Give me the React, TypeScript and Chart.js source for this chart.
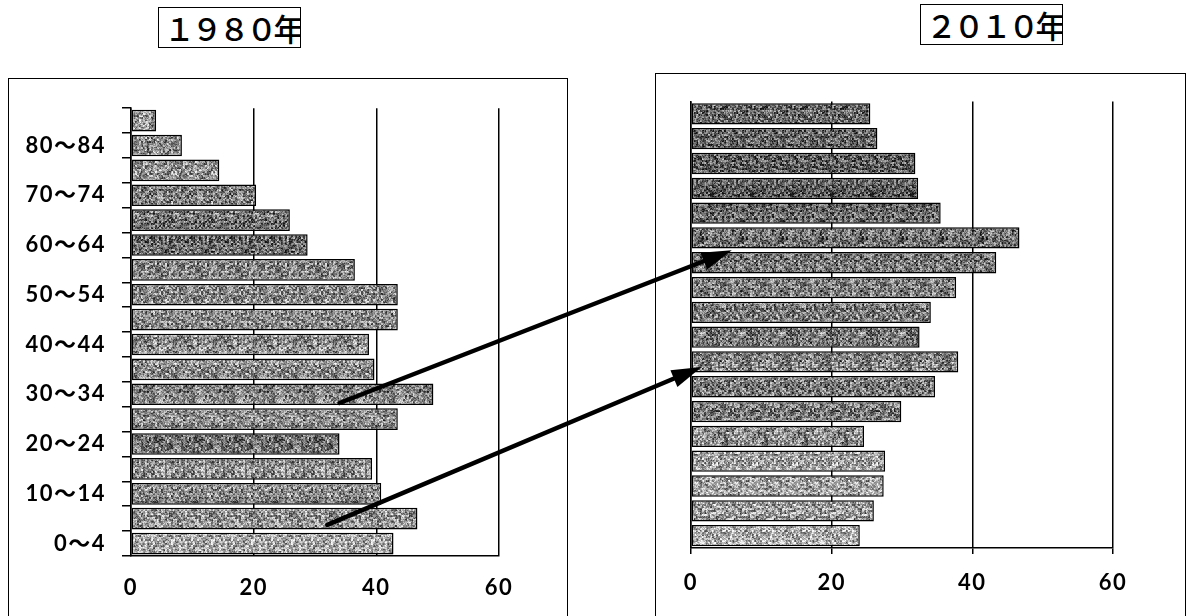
import React, { useEffect, useRef } from "react";
import { Chart, registerables } from "chart.js";

Chart.register(...registerables);

// ---- data ----
const ageGroups = [
  "0〜4", "5〜9", "10〜14", "15〜19", "20〜24", "25〜29", "30〜34", "35〜39", "40〜44",
  "45〜49", "50〜54", "55〜59", "60〜64", "65〜69", "70〜74", "75〜79", "80〜84", "85〜",
];
const values1980 = [42.8, 46.7, 40.8, 39.3, 34.0, 43.5, 49.3, 39.7, 38.8, 43.5, 43.5, 36.5, 28.8, 25.9, 20.4, 14.4, 8.3, 4.1];
const values2010 = [24.0, 26.0, 27.4, 27.6, 24.6, 29.9, 34.7, 38.0, 32.5, 34.1, 37.7, 43.4, 46.7, 35.5, 32.3, 31.9, 26.5, 25.5];
const xTickValues = [0, 20, 40, 60];
const titles = ["１９８０年", "２０１０年"];
// arrows: cohort in 1980 -> same cohort in 2010
const arrowFrom = ["30〜34", "5〜9"];
const arrowFromValue = [34, 32];
const arrowTo = ["60〜64", "35〜39"];
const arrowToValue = [5.8, 1.5];

// ---- styles (grey level of each bar's speckle texture) ----
const greys1980 = [165, 150, 140, 145, 120, 135, 130, 140, 140, 140, 140, 135, 105, 115, 130, 145, 140, 150];
const greys2010 = [175, 155, 160, 165, 140, 125, 125, 130, 120, 125, 120, 115, 110, 100, 90, 95, 95, 105];

const W = 1192;
const H = 616;
const FONT = 'Lato, "Noto Sans CJK JP", sans-serif';

function noise(x: number, y: number, seed: number) {
  const s = Math.sin(x * 12.9898 + y * 78.233 + seed * 37.719) * 43758.5453;
  return s - Math.floor(s);
}

function makePattern(grey: number, seed: number): CanvasPattern | string {
  const size = 40;
  const c = document.createElement("canvas");
  c.width = size;
  c.height = size;
  const g = c.getContext("2d");
  if (!g) return `rgb(${grey},${grey},${grey})`;
  const img = g.createImageData(size, size);
  for (let y = 0; y < size; y++) {
    for (let x = 0; x < size; x++) {
      const n1 = noise(Math.floor(x / 2), Math.floor(y / 2), seed);
      const n2 = noise(x, y, seed + 11);
      const n = n1 * 0.6 + n2 * 0.4;
      let v = grey + (n - 0.5) * 230;
      v = Math.max(15, Math.min(252, v));
      const i = (y * size + x) * 4;
      img.data[i] = v;
      img.data[i + 1] = v;
      img.data[i + 2] = v;
      img.data[i + 3] = 255;
    }
  }
  g.putImageData(img, 0, 0);
  const p = g.createPattern(c, "repeat");
  return p || `rgb(${grey},${grey},${grey})`;
}

type Geo = {
  left: number; top: number; width: number; height: number;
  yAxisWidth: number; xAxisHeight: number; padTop: number; padRight: number;
  showYLabels: boolean; xTickLen: number; xPad: number; barPct: number;
};

const geoLeft: Geo = {
  left: 9, top: 79, width: 558, height: 537,
  yAxisWidth: 122, xAxisHeight: 60, padTop: 28, padRight: 68,
  showYLabels: true, xTickLen: 0, xPad: 19, barPct: 0.87,
};
const geoRight: Geo = {
  left: 656, top: 74, width: 528, height: 542,
  yAxisWidth: 35, xAxisHeight: 68, padTop: 27.5, padRight: 71,
  showYLabels: false, xTickLen: 6, xPad: 16, barPct: 0.86,
};

const spacingPlugin = {
  id: "letterSpacing",
  beforeDraw: (chart: any) => {
    try {
      (chart.ctx as any).letterSpacing = "1.5px";
    } catch (e) {
      /* ignore */
    }
  },
};

function buildChart(canvas: HTMLCanvasElement, values: number[], greys: number[], geo: Geo, seed: number) {
  const patterns = greys.map((g, i) => makePattern(g, seed + i * 3.1));
  return new Chart(canvas, {
    type: "bar",
    data: {
      labels: ageGroups,
      datasets: [
        {
          data: values,
          backgroundColor: patterns as any,
          borderColor: "#000",
          borderWidth: 1.5,
          borderSkipped: false,
          barPercentage: geo.barPct,
          categoryPercentage: 1,
        },
      ],
    },
    plugins: [spacingPlugin],
    options: {
      indexAxis: "y",
      responsive: false,
      maintainAspectRatio: false,
      animation: false,
      events: [],
      layout: { padding: { top: geo.padTop, right: geo.padRight, left: 0, bottom: 0 } },
      plugins: { legend: { display: false }, tooltip: { enabled: false }, title: { display: false } },
      scales: {
        x: {
          type: "linear",
          min: 0,
          max: 60,
          afterBuildTicks: (s: any) => {
            s.ticks = xTickValues.map((v) => ({ value: v }));
          },
          afterFit: (s: any) => {
            s.height = geo.xAxisHeight;
          },
          grid: {
            color: "#000",
            lineWidth: 1.5,
            drawTicks: geo.xTickLen > 0,
            tickLength: geo.xTickLen,
          },
          border: { color: "#000", width: 1.5 },
          ticks: {
            color: "#000",
            padding: geo.xPad,
            maxRotation: 0,
            font: { family: FONT, size: 22, weight: "bold" },
          },
        },
        y: {
          type: "category",
          reverse: true,
          afterFit: (s: any) => {
            s.width = geo.yAxisWidth;
          },
          grid: {
            display: true,
            drawOnChartArea: false,
            drawTicks: geo.showYLabels,
            tickLength: 9,
            color: "#000",
            lineWidth: 1.5,
            offset: true,
          },
          border: { color: "#000", width: 1.5 },
          ticks: {
            display: geo.showYLabels,
            autoSkip: false,
            color: "#000",
            padding: 16,
            font: { family: FONT, size: 22, weight: "bold" },
            callback: (_v: any, idx: number) => (idx % 2 === 0 ? ageGroups[idx] : ""),
          },
        },
      },
    },
  });
}

function drawArrow(ctx: CanvasRenderingContext2D, x1: number, y1: number, x2: number, y2: number) {
  const ang = Math.atan2(y2 - y1, x2 - x1);
  const headLen = 30;
  const headHalf = 9;
  const bx = x2 - Math.cos(ang) * headLen;
  const by = y2 - Math.sin(ang) * headLen;
  ctx.strokeStyle = "#000";
  ctx.fillStyle = "#000";
  ctx.lineWidth = 4.5;
  ctx.lineCap = "round";
  ctx.beginPath();
  ctx.moveTo(x1, y1);
  ctx.lineTo(bx + Math.cos(ang) * 4, by + Math.sin(ang) * 4);
  ctx.stroke();
  ctx.beginPath();
  ctx.moveTo(x2, y2);
  ctx.lineTo(bx - Math.sin(ang) * headHalf, by + Math.cos(ang) * headHalf);
  ctx.lineTo(bx + Math.sin(ang) * headHalf, by - Math.cos(ang) * headHalf);
  ctx.closePath();
  ctx.fill();
}

export default function App() {
  const leftRef = useRef<HTMLCanvasElement>(null);
  const rightRef = useRef<HTMLCanvasElement>(null);
  const overlayRef = useRef<HTMLCanvasElement>(null);

  useEffect(() => {
    if (!leftRef.current || !rightRef.current || !overlayRef.current) return;
    const c1 = buildChart(leftRef.current, values1980, greys1980, geoLeft, 1);
    const c2 = buildChart(rightRef.current, values2010, greys2010, geoRight, 50);

    const octx = overlayRef.current.getContext("2d");
    if (octx) {
      octx.clearRect(0, 0, W, H);
      const fromOffsets = [-0.35, -0.25];
      const toOffsets = [-0.5, -0.2];
      for (let i = 0; i < arrowFrom.length; i++) {
        const fi = ageGroups.indexOf(arrowFrom[i]);
        const ti = ageGroups.indexOf(arrowTo[i]);
        const x1 = geoLeft.left + (c1.scales.x as any).getPixelForValue(arrowFromValue[i]);
        const y1 = geoLeft.top + (c1.scales.y as any).getPixelForValue(fi + fromOffsets[i]);
        const x2 = geoRight.left + (c2.scales.x as any).getPixelForValue(arrowToValue[i]);
        const y2 = geoRight.top + (c2.scales.y as any).getPixelForValue(ti + toOffsets[i]);
        drawArrow(octx, x1, y1, x2, y2);
      }
    }
    return () => {
      c1.destroy();
      c2.destroy();
    };
  }, []);

  const titleStyle = (left: number, top: number): React.CSSProperties => ({
    position: "absolute",
    left,
    top,
    width: 143,
    height: 41,
    boxSizing: "border-box",
    border: "1px solid #000",
    fontFamily: '"Noto Sans CJK JP", sans-serif',
    fontSize: 31,
    fontWeight: 500,
    letterSpacing: -3.6,
    lineHeight: "39px",
    paddingLeft: 5,
    whiteSpace: "nowrap",
    overflow: "hidden",
    color: "#000",
    background: "#fff",
  });

  return (
    <div style={{ position: "absolute", left: 0, top: 0, width: W, height: H, overflow: "hidden", background: "#fff" }}>
      <div style={titleStyle(158, 7)}>{titles[0]}</div>
      <div style={titleStyle(920, 4)}>{titles[1]}</div>
      <div style={{ position: "absolute", left: 8, top: 78, width: 560, height: 560, boxSizing: "border-box", border: "1px solid #000" }} />
      <div style={{ position: "absolute", left: 655, top: 73, width: 531, height: 560, boxSizing: "border-box", border: "1px solid #000" }} />
      <canvas
        ref={leftRef}
        width={geoLeft.width}
        height={geoLeft.height}
        style={{ position: "absolute", left: geoLeft.left, top: geoLeft.top, width: geoLeft.width, height: geoLeft.height }}
      />
      <canvas
        ref={rightRef}
        width={geoRight.width}
        height={geoRight.height}
        style={{ position: "absolute", left: geoRight.left, top: geoRight.top, width: geoRight.width, height: geoRight.height }}
      />
      <canvas
        ref={overlayRef}
        width={W}
        height={H}
        style={{ position: "absolute", left: 0, top: 0, width: W, height: H, pointerEvents: "none" }}
      />
    </div>
  );
}
